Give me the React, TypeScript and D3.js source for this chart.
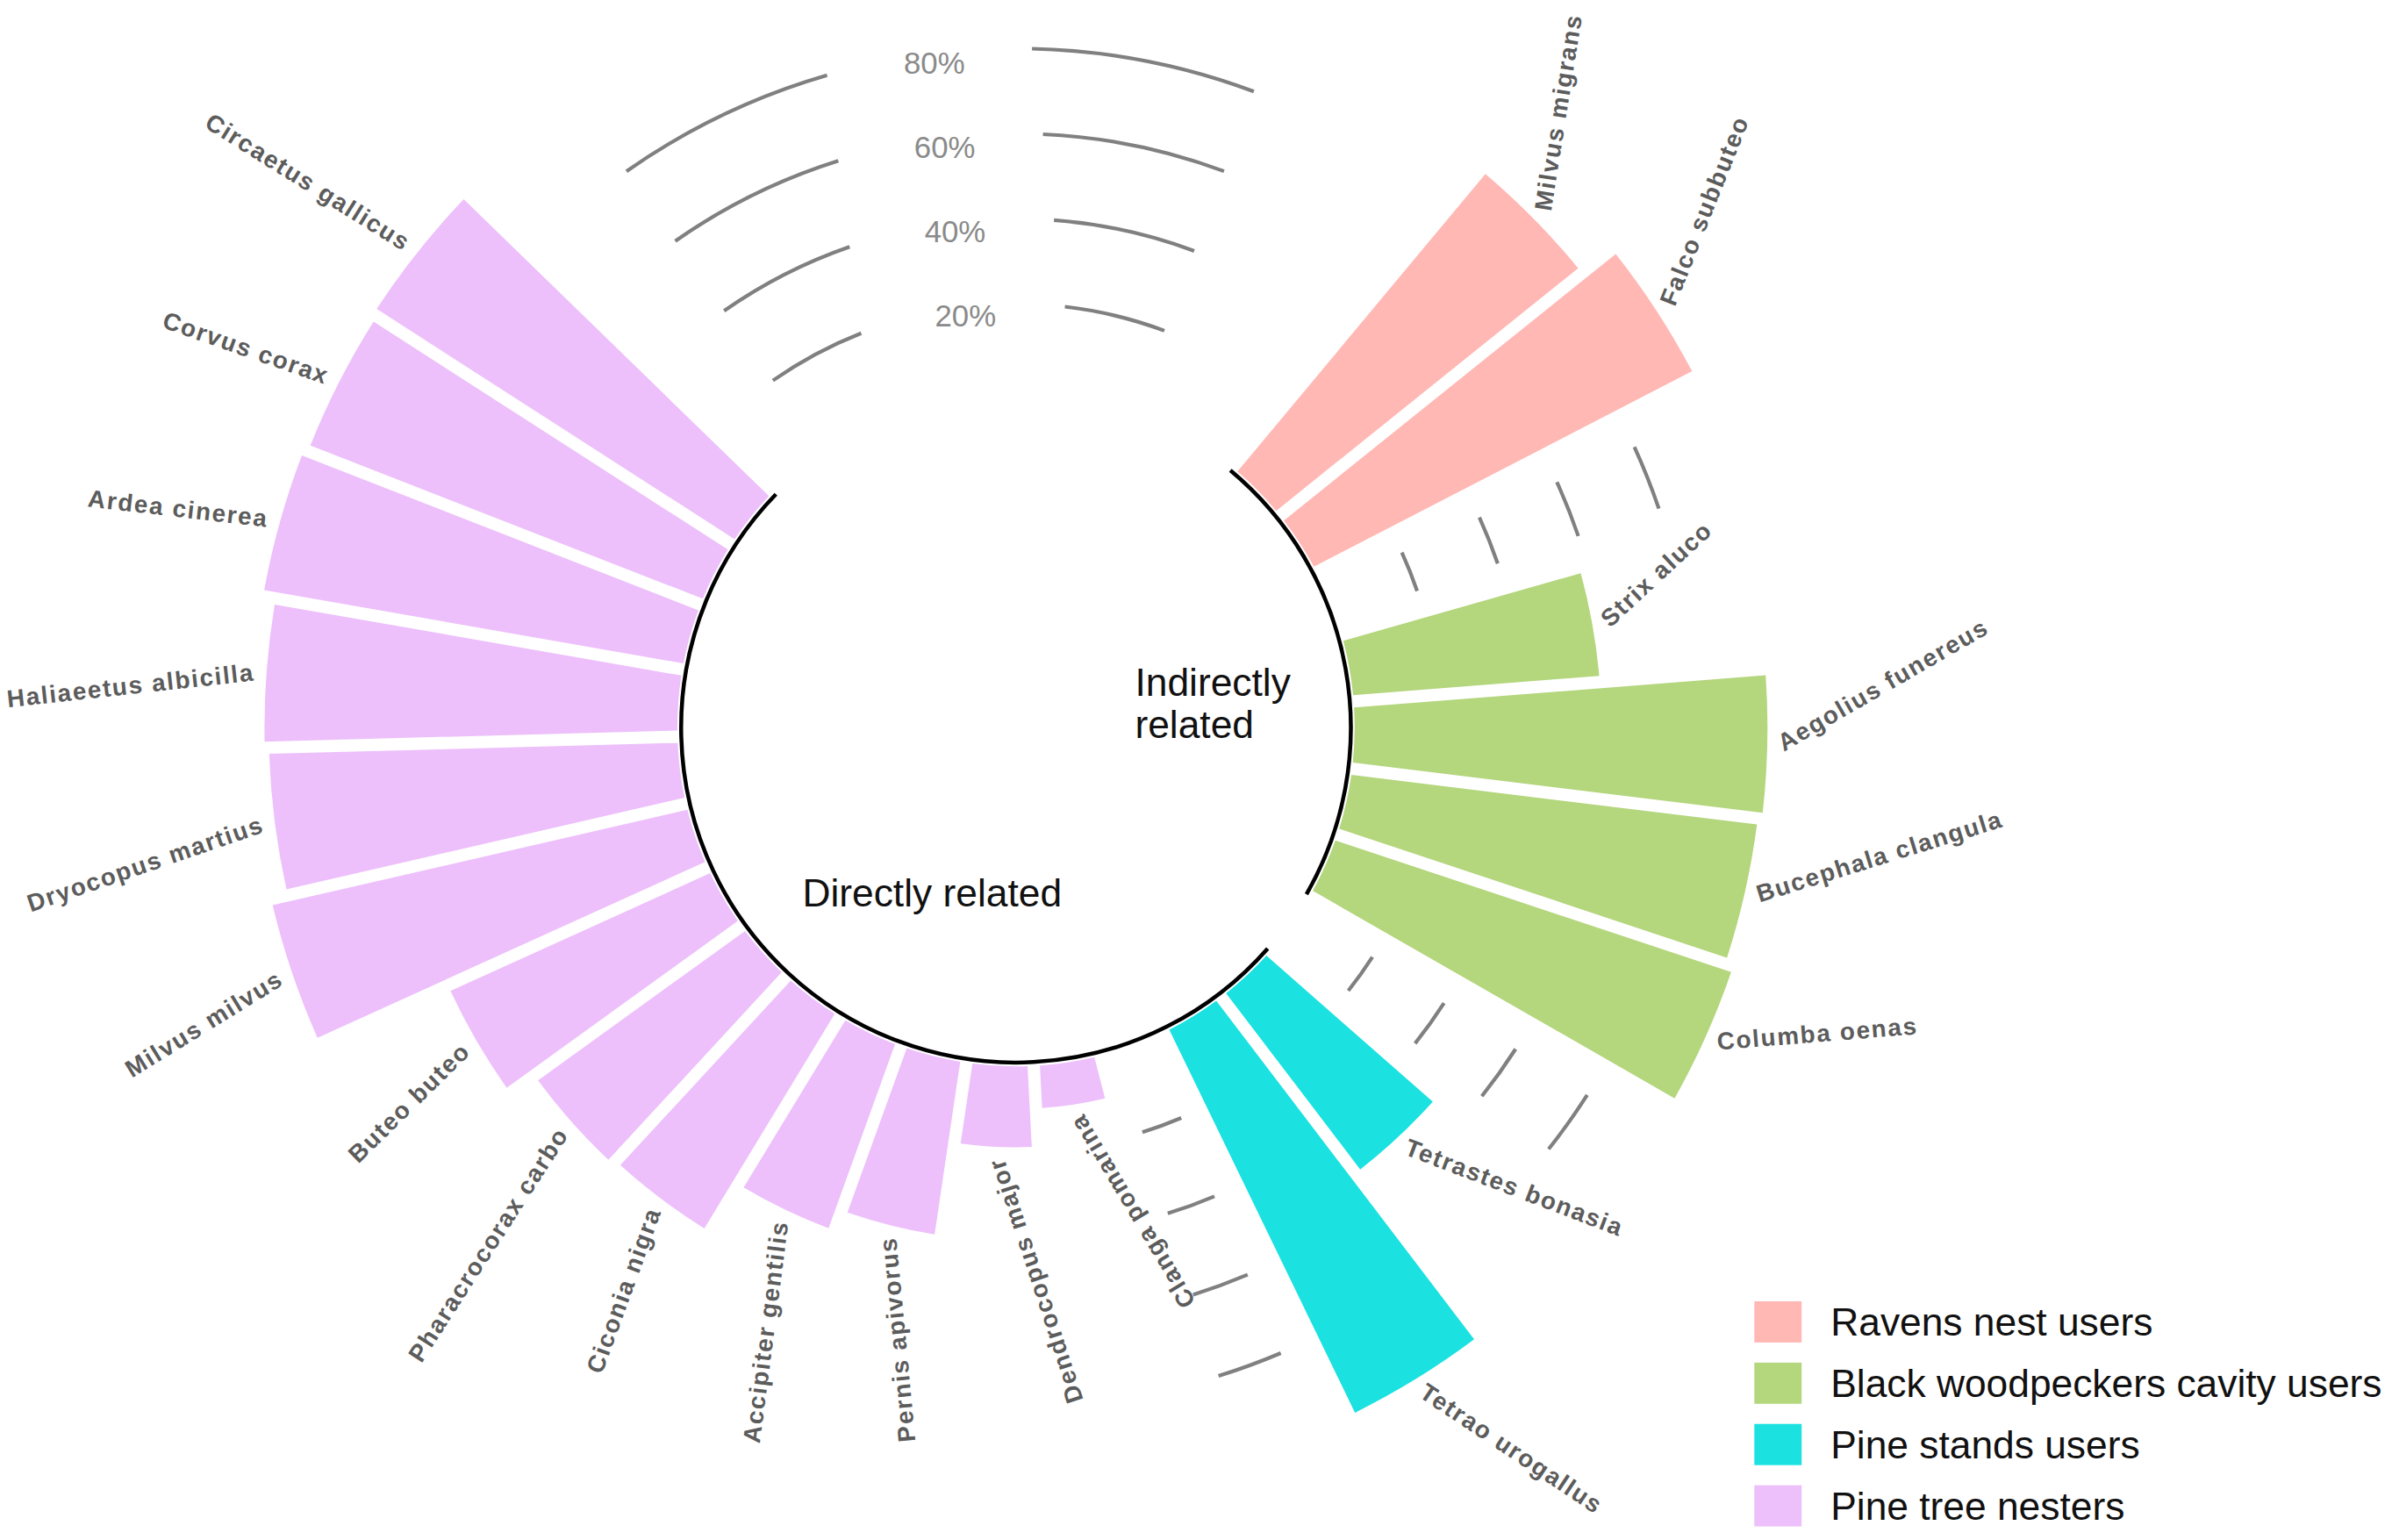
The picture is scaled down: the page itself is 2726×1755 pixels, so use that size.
import React from "react";
import * as d3 from "d3";

// ---------- data ----------
const groups = [
  "Ravens nest users",
  "Black woodpeckers cavity users",
  "Pine stands users",
  "Pine tree nesters",
];
const groupColors = ["#FFB8B4", "#B4D67D", "#1BE1E1", "#EDC0FB"];

const species = [
  "Milvus migrans", "Falco subbuteo",
  "Strix aluco", "Aegolius funereus", "Bucephala clangula", "Columba oenas",
  "Tetrastes bonasia", "Tetrao urogallus",
  "Clanga pomarina", "Dendrocopus major", "Pernis apivorus", "Accipiter gentilis",
  "Ciconia nigra", "Pharacrocorax carbo", "Buteo buteo", "Milvus milvus",
  "Dryocopus martius", "Haliaeetus albicilla", "Ardea cinerea", "Corvus corax",
  "Circaetus gallicus",
];
const speciesGroup = [
  0, 0,
  1, 1, 1, 1,
  2, 2,
  3, 3, 3, 3, 3, 3, 3, 3, 3, 3, 3, 3, 3,
];
const values = [
  91, 100,
  58, 97, 96, 98,
  52, 100,
  10, 19, 41, 46, 59, 60, 67, 100, 96, 97, 100, 99, 100,
];
const gridTicks = [20, 40, 60, 80];
const relationLabels = ["Indirectly related", "Directly related"];
const relationGroups = [[0, 1], [2, 3]];

// ---------- layout ----------
const W = 1568;
const H = 1009.48;
const cx = 666;
const cy = 477;
const deg = Math.PI / 180;

type Slot = { key: string; idx: number };
const slots: Slot[] = [];
groups.forEach((_, g) => {
  if (g > 0) slots.push({ key: `gap-${g}`, idx: -1 });
  species.forEach((s, i) => {
    if (speciesGroup[i] === g) slots.push({ key: s, idx: i });
  });
});

const angle = d3
  .scaleBand<string>()
  .domain(slots.map((s) => s.key))
  .range([39.8 * deg, 314.2 * deg])
  .padding(0);
const bw = angle.bandwidth();
const rScale = d3.scaleLinear().domain([0, 100]).range([222, 501]);
const centerOf = (k: string) => (angle(k) as number) + bw / 2;

const firstC = centerOf(species[0]) / deg;
const lastC = centerOf(species[species.length - 1]) / deg;
const labelRot = d3.scaleLinear().domain([firstC, lastC]).range([9, 302]);

const barArc = d3
  .arc<any>()
  .innerRadius(rScale(0))
  .outerRadius((d: any) => rScale(d.v))
  .startAngle((d: any) => d.a0)
  .endAngle((d: any) => d.a1)
  .padAngle(0.027)
  .padRadius(300);

const pt = (a: number, r: number) => [cx + r * Math.sin(a), cy - r * Math.cos(a)];

const arcPath = (a0: number, a1: number, r: number) => {
  const p = d3.path();
  p.arc(cx, cy, r, a0 - Math.PI / 2, a1 - Math.PI / 2, false);
  return p.toString();
};

const FONT = "'Liberation Sans', Arial, sans-serif";

export default function App() {
  // grid segments
  const gridPaths: string[] = [];
  const topFrom = -35 * deg;
  const topTo = 20.5 * deg;
  const topLabelA = -7.4 * deg;
  gridTicks.forEach((t) => {
    const r = rScale(t);
    const half = 68 / r;
    gridPaths.push(arcPath(topFrom, topLabelA - half, r));
    gridPaths.push(arcPath(topLabelA + half, topTo, r));
  });
  slots
    .filter((s) => s.idx < 0)
    .forEach((s) => {
      const c = centerOf(s.key);
      gridTicks.forEach((t) => {
        gridPaths.push(arcPath(c - 2.8 * deg, c + 2.8 * deg, rScale(t)));
      });
    });

  // relation base arcs
  const relArcs = relationGroups.map((gs) => {
    const members = species.filter((_, i) => gs.includes(speciesGroup[i]));
    const a0 = angle(members[0]) as number;
    const a1 = (angle(members[members.length - 1]) as number) + bw;
    return arcPath(a0, a1, 219.5);
  });

  return (
    <div style={{ position: "absolute", left: 0, top: 0 }}>
      <svg
        width={2726}
        height={1755}
        viewBox={`0 0 ${W} ${H}`}
        style={{ display: "block", background: "#fff" }}
      >
        {/* bars */}
        {species.map((s, i) => {
          const a0 = angle(s) as number;
          return (
            <path
              key={s}
              d={barArc({ a0, a1: a0 + bw, v: values[i] }) as string}
              transform={`translate(${cx},${cy})`}
              fill={groupColors[speciesGroup[i]]}
            />
          );
        })}

        {/* grid */}
        {gridPaths.map((d, i) => (
          <path key={i} d={d} fill="none" stroke="#808080" strokeWidth={2.4} />
        ))}
        {gridTicks.map((t) => {
          const [x, y] = pt(topLabelA + 0.4 * deg, rScale(t) - 6);
          return (
            <text
              key={t}
              x={x}
              y={y}
              dy="0.35em"
              textAnchor="middle"
              fontFamily={FONT}
              fontSize={20}
              fill="#8a8a8a"
            >
              {`${t}%`}
            </text>
          );
        })}

        {/* base arcs */}
        {relArcs.map((d, i) => (
          <path key={i} d={d} fill="none" stroke="#000" strokeWidth={2.6} />
        ))}

        {/* species labels */}
        {species.map((s, i) => {
          const c = centerOf(s);
          const [x, y] = pt(c, rScale(values[i]) + 8);
          const rot = labelRot(c / deg);
          const flip = c / deg > 160;
          return (
            <text
              key={s}
              x={0}
              y={0}
              dy="0.35em"
              transform={`translate(${x},${y}) rotate(${flip ? rot - 270 : rot - 90})`}
              textAnchor={flip ? "end" : "start"}
              fontFamily={FONT}
              fontSize={16}
              fontWeight="bold"
              letterSpacing={1}
              fill="#5c5c5c"
            >
              {s}
            </text>
          );
        })}

        {/* relation labels */}
        <text x={744} y={456} fontFamily={FONT} fontSize={25.5} fill="#111">
          {relationLabels[0].split(" ")[0]}
        </text>
        <text x={744} y={484} fontFamily={FONT} fontSize={25.5} fill="#111">
          {relationLabels[0].split(" ")[1]}
        </text>
        <text x={611} y={594} textAnchor="middle" fontFamily={FONT} fontSize={25.5} fill="#111">
          {relationLabels[1]}
        </text>

        {/* legend */}
        {groups.map((g, i) => (
          <g key={g} transform={`translate(1150,${853 + i * 40.2})`}>
            <rect width={31} height={27} fill={groupColors[i]} />
            <text x={50} y={13.5} dy="0.36em" fontFamily={FONT} fontSize={25.5} fill="#111">
              {g}
            </text>
          </g>
        ))}
      </svg>
    </div>
  );
}
